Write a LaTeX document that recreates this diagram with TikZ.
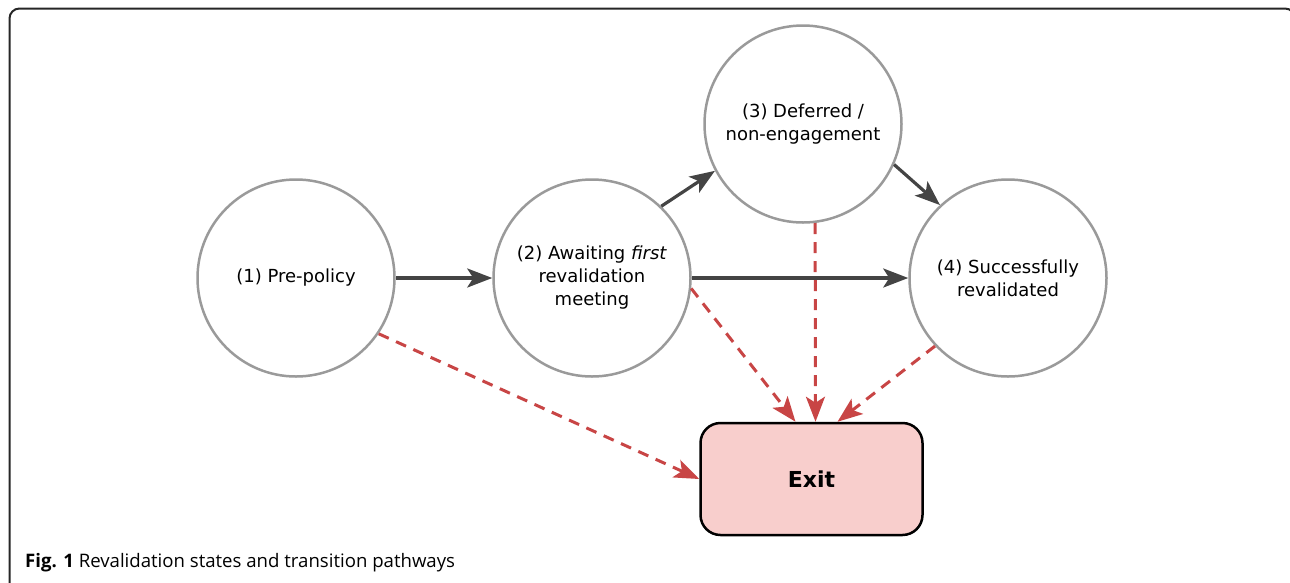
\documentclass[tikz,border=0pt]{standalone}
\usepackage{fontspec}
\setmainfont{DejaVu Sans}
\newfontfamily\capfont{Open Sans}
\usetikzlibrary{arrows.meta,calc}
\definecolor{circgray}{HTML}{9A9A9A}
\definecolor{arrgray}{HTML}{444444}
\definecolor{exitred}{HTML}{C84545}
\definecolor{exitfill}{HTML}{F8CECC}
\begin{document}
\begin{tikzpicture}[x=1pt,y=-1pt,
  state/.style={circle, draw=circgray, line width=2.5pt, minimum size=197pt, inner sep=0pt,
    align=center, font=\fontsize{18}{23}\selectfont},
  exitbox/.style={rectangle, rounded corners=20pt, draw=black, line width=2.5pt, fill=exitfill,
    minimum width=222pt, minimum height=112pt, font=\fontsize{22}{26}\selectfont\bfseries},
  darr/.style={draw=arrgray, line width=3.2pt, -{Stealth[length=25pt,width=19pt,inset=6pt]}},
  rarr/.style={draw=exitred, line width=3pt, dash pattern=on 11pt off 8pt,
    -{Stealth[length=25pt,width=19pt,inset=6pt]}},
  frame/.style={draw=black!85, line width=2pt, rounded corners=10pt}
]
\useasboundingbox (0,0) rectangle (1290,582);
\clip (0,0) rectangle (1290,582);
\draw[frame] (9.5,8.5) rectangle (1295,600);

\node[state] (c1) at (296,278) {(1) Pre-policy};
\node[state] (c2) at (592,278) {(2) Awaiting \textit{first}\\revalidation\\meeting};
\node[state] (c3) at (803,124) {(3) Deferred /\\non-engagement};
\node[state] (c4) at (1008,278) {(4) Successfully\\revalidated};
\node[exitbox] (exit) at (811.5,479) {Exit};

\draw[darr] (c1.east) -- (c2.west);
\draw[darr] (c2.east) -- (c4.west);
\draw[darr] (c2.46.6) -- (c3.208.6);
\draw[darr] (c3.-24.7) -- (c4.133.7);

\draw[rarr] (c1.-34.5) -- (exit.west);
\draw[rarr] (c2.-6) -- ($(exit.north)+(-16,0)$);
\draw[rarr] (c3.-83.5) -- ($(exit.north)+(4,0)$);
\draw[rarr] (c4.223.3) -- ($(exit.north)+(26,0)$);

\node[anchor=base west, inner sep=0pt, font=\capfont\fontsize{18.6}{22}\selectfont] (cap) at (25,567)
  {\textbf{Fig. 1} Revalidation states and transition pathways};
\end{tikzpicture}
\end{document}
